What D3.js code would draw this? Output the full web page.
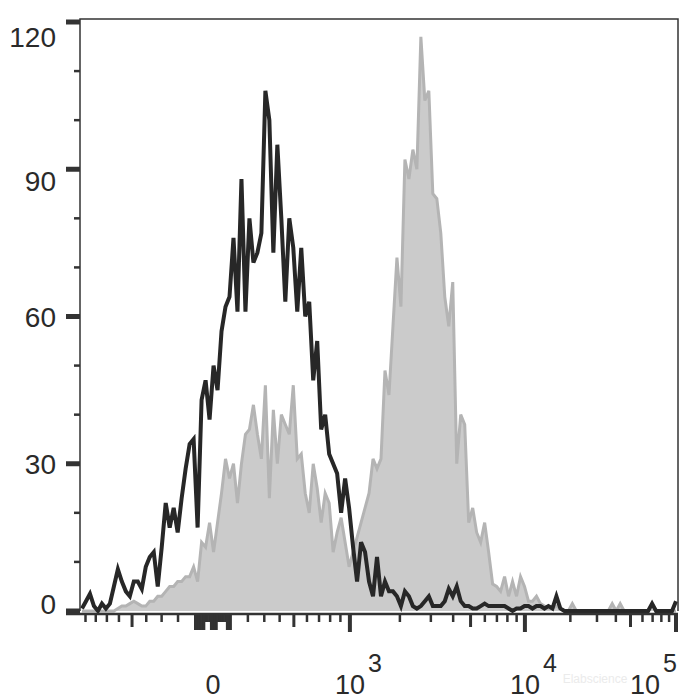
<!DOCTYPE html>
<html>
<head>
<meta charset="utf-8">
<script src="https://cdn.jsdelivr.net/npm/d3@7"></script>
<style>
  body { margin: 0; background: #fff; }
  text { font-family: "Liberation Sans", Arial, sans-serif; fill: #2a2a2a; }
</style>
</head>
<body>
<div id="chart"></div>
<script>
// histogram counts, one value per display channel (150 channels across the x axis)
const isotype = [ // black line
  0.5, 2, 3.5, 1, 0, 1.5, 0.5, 1.5, 5, 8.5,
  6, 4, 3, 6, 6, 4.5, 9, 11, 12, 5,
  13, 22, 17, 21, 16, 23, 29, 34, 35, 17,
  43, 47, 39, 50, 45, 57, 62, 64, 76, 61,
  88, 61, 80, 71, 73, 77, 106, 100, 73, 95,
  80, 63, 80, 74, 61, 74, 60, 63, 47, 55,
  37, 40, 32, 30, 28, 20, 27, 21, 13, 6,
  14, 12, 6, 3, 11, 3, 6, 4, 4, 3,
  1, 4, 3, 1, 0.5, 1, 2, 3, 1, 1,
  1, 2, 4.5, 3, 5, 2, 1, 1, 0.5, 0.5,
  1, 1.5, 1, 1, 1, 1, 1, 0.5, 0, 0.5,
  0.5, 1, 1, 0.5, 1, 1, 0.5, 1, 0.5, 3,
  0.5, 0, 0, 0, 0, 0, 0, 0, 0, 0,
  0, 0, 0, 0, 0, 0, 0, 0, 0, 0,
  0, 0, 0, 1.5, 0, 0, 0, 0, 0, 2
];
const stained = [ // grey filled
  0, 0, 0, 0, 0, 0, 0, 0, 0, 0.5,
  1, 1, 1.5, 2, 1.5, 1, 1, 2, 2, 3,
  3, 4, 5, 5, 6, 6, 7, 7, 9, 6,
  14, 13, 18, 12, 18, 24, 31, 27, 30, 22,
  30, 36, 37, 42, 36, 31, 46, 23, 41, 30,
  40, 38, 36, 46, 31, 32, 24, 20, 30, 25,
  18, 24, 22, 12, 16, 19, 14, 9, 12, 15,
  18, 21, 24, 31, 29, 31, 49, 44, 58, 72,
  62, 92, 88, 94, 90, 117, 104, 106, 85, 84,
  77, 64, 58, 67, 30, 40, 38, 18, 21, 16,
  14, 18, 12, 5.5, 5, 4, 7, 3, 6, 3,
  7, 5, 2, 2, 3, 1.5, 1, 0.5, 0.5, 1,
  0.5, 0, 0, 1.5, 0, 0, 0, 0, 0, 0,
  0, 0, 0, 1.5, 0, 1.5, 0, 0, 0, 0,
  0, 0, 0, 1.5, 0, 0, 0, 0, 0, 0
];

// axis definition
const yMajor = [0, 30, 60, 90, 120];
const yMinor = [10, 20, 40, 50, 70, 80, 100, 110];
const decadeValues = [-1000, 1000, 10000, 100000];
const decadeChannels = [-1, 67.7, 111.6, 149.5];
const xLabelled = [0, 1000, 10000, 100000];
const xLabelExp = ["", "3", "4", "5"];
const xMedium = [-500, 500, 5000, 50000];
const xMinor = [-900, -800, -700, -600, -400, -300, -200, 200, 300, 400, 600, 700, 800, 900,
  2000, 3000, 4000, 6000, 7000, 8000, 9000, 20000, 30000, 40000, 60000, 70000, 80000, 90000];
const xZeroLong = [-100, -90, -80, -70, -60, -50, -10, 0, 10, 20, 80, 90, 100];
const xZeroShort = [-40, -30, -20, 30, 40, 50, 60, 70];

const width = 700, height = 700;
const plotL = 80, plotR = 678, plotT = 19, base = 611;

const svg = d3.select("#chart").append("svg")
  .attr("width", width)
  .attr("height", height);

// biexponential-like transform
const W = 600;
const tr = v => Math.asinh(v / W);

const nBins = isotype.length;
const x = d3.scaleLinear().domain([0, nBins]).range([plotL, plotR]);
const chan = d3.scaleLinear().domain(decadeValues.map(tr)).range(decadeChannels);
const xv = v => x(chan(tr(v)));

const y = d3.scaleLinear().domain([0, 120]).range([base, 22]);

// grey histogram
const area = d3.area()
  .x((d, i) => x(i + 0.5))
  .y0(y(0))
  .y1(d => y(d));
const line = d3.line()
  .x((d, i) => x(i + 0.5))
  .y(d => y(d));

svg.append("path")
  .datum(stained)
  .attr("d", area)
  .attr("fill", "#cbcbcb");
svg.append("path")
  .datum(stained)
  .attr("d", line)
  .attr("fill", "none")
  .attr("stroke", "#b4b4b4")
  .attr("stroke-width", 3)
  .attr("stroke-linejoin", "miter");

// black histogram
svg.append("path")
  .datum(isotype)
  .attr("d", line)
  .attr("fill", "none")
  .attr("stroke", "#272727")
  .attr("stroke-width", 4)
  .attr("stroke-linejoin", "miter");

// frame
svg.append("path")
  .attr("d", `M${plotL},${base}V${plotT}H${plotR}V${base}`)
  .attr("fill", "none")
  .attr("stroke", "#333")
  .attr("stroke-width", 1.5);

// y ticks
svg.selectAll(".ymaj").data(yMajor).enter().append("line")
  .attr("x1", 66).attr("x2", plotL)
  .attr("y1", d => y(d)).attr("y2", d => y(d))
  .attr("stroke", "#333").attr("stroke-width", 5);
svg.selectAll(".ymin").data(yMinor).enter().append("line")
  .attr("x1", 74).attr("x2", plotL)
  .attr("y1", d => y(d)).attr("y2", d => y(d))
  .attr("stroke", "#333").attr("stroke-width", 2.5);

const yNudge = { 0: -7, 30: 0, 60: 0, 90: 12, 120: 15 };
svg.selectAll(".ylab").data(yMajor).enter().append("text")
  .attr("x", 56)
  .attr("y", d => y(d) + yNudge[d])
  .attr("dy", "0.36em")
  .attr("text-anchor", "end")
  .attr("font-size", 28)
  .text(d => d);

// x axis line and ticks
const axisY = base + 3;
svg.append("line")
  .attr("x1", 66).attr("x2", plotR)
  .attr("y1", axisY).attr("y2", axisY)
  .attr("stroke", "#333").attr("stroke-width", 2.5);

function xTicks(vals, len, w) {
  svg.append("g").selectAll("line").data(vals).enter().append("line")
    .attr("x1", d => xv(d)).attr("x2", d => xv(d))
    .attr("y1", axisY).attr("y2", axisY + len)
    .attr("stroke", "#333").attr("stroke-width", w);
}
xTicks(xMinor, 8, 2.5);
xTicks(xZeroShort, 8, 2.5);
xTicks(xZeroLong, 16, 2.5);
xTicks(xMedium, 13, 3);
xTicks(xLabelled.slice(1), 18, 4);

// x labels: "10" centred on the tick, exponent raised after it
const xl = svg.append("g");
xLabelled.forEach((v, i) => {
  const t = xl.append("text")
    .attr("y", 694)
    .attr("font-size", 27);
  if (i === 0) {
    t.attr("x", xv(v)).attr("text-anchor", "middle").text("0");
    return;
  }
  t.append("tspan").text("10");
  t.append("tspan").attr("dx", 3).attr("dy", -22).attr("font-size", 25).text(xLabelExp[i]);
  const w10 = 30;
  let x0 = xv(v) - w10 / 2;
  const bb = t.node().getComputedTextLength();
  if (x0 + bb + 3 > 677) x0 = 677 - bb - 3;
  t.attr("x", x0);
});

// faint watermark
svg.append("text")
  .attr("x", 595).attr("y", 683)
  .attr("text-anchor", "middle")
  .attr("font-size", 12)
  .style("fill", "#ebebeb")
  .text("Elabscience");
</script>
</body>
</html>
